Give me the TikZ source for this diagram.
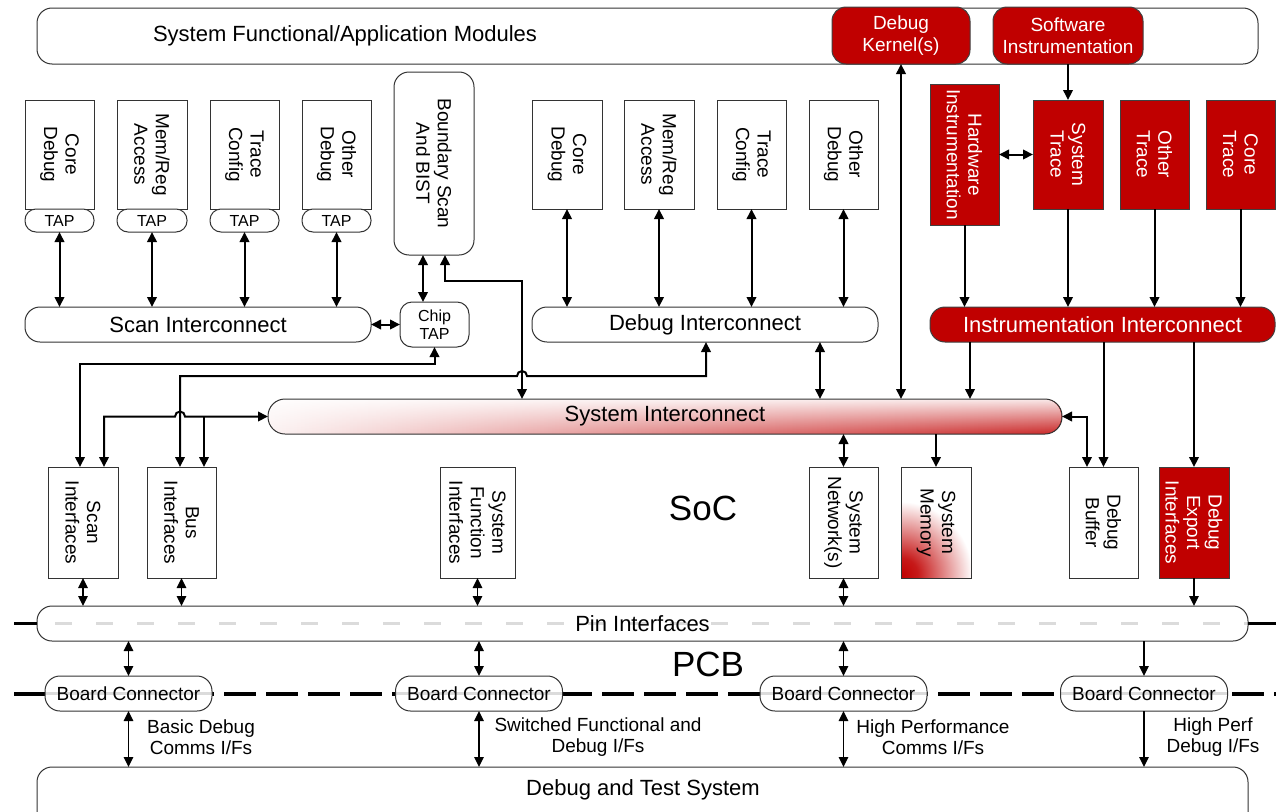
\documentclass[tikz,border=0pt]{standalone}
\usepackage{fontspec}
\setmainfont{Liberation Sans}
\usetikzlibrary{arrows.meta,fadings,calc}
\definecolor{ired}{RGB}{192,0,0}
% shading of the system interconnect bar: white on the left, red on the right
\pgfdeclarehorizontalshading{sysicshade}{100bp}{color(0bp)=(white); color(22bp)=(white); color(55bp)=(ired!55); color(85bp)=(ired); color(100bp)=(ired)}
% shading of the system memory block: red corner fading to white
\pgfdeclareradialshading{memrad}{\pgfpoint{0bp}{0bp}}{color(0bp)=(ired); color(4bp)=(ired!90); color(17bp)=(white); color(50bp)=(white)}
\tikzfading[name=topfade, top color=transparent!10, middle color=transparent!70, bottom color=transparent!100]

\begin{document}
\begin{tikzpicture}[x=1pt,y=-1pt,
  blk/.style={draw=black!80, line width=1pt, fill=white, inner sep=0pt, outer sep=0pt},
  rbx/.style={blk, rounded corners=#1},
  rbx/.default=12pt,
  redb/.style={fill=ired, draw=black!75, text=white},
  sz/.style 2 args={minimum width=#1pt, minimum height=#2pt},
  f35/.style={font=\fontsize{35pt}{40pt}\selectfont},
  f22/.style={font=\fontsize{22pt}{26pt}\selectfont},
  f19/.style={font=\fontsize{19pt}{21.5pt}\selectfont},
  f16/.style={font=\fontsize{16pt}{18.5pt}\selectfont},
  tv/.style={rotate=-90, align=center, inner sep=0pt, f19},
  tip/.tip={Triangle[length=10pt,width=9.5pt]},
  dbl/.style={tip-tip, line width=2pt},
  sgl/.style={-tip, line width=2pt},
  dblt/.style={tip-tip, line width=1.5pt},
  sglt/.style={-tip, line width=1.5pt},
]
\clip (0,0) rectangle (1276,811);

% ---------- application layer ----------
\node[rbx=15pt, sz={1221}{56}] (sfam) at (647.5,36) {};
\node[f22] (sfamt) at (345,36) {System Functional/Application Modules};
\node[rbx=14pt, redb, sz={138}{57}, f19, align=center] (dk) at (901,35.5) {Debug\\Kernel(s)};
\node[rbx=14pt, redb, sz={150}{57}, f19, align=center] (si) at (1068,35.5) {Software\\Instrumentation};

% ---------- scan-based debug blocks ----------
\node[blk, sz={69}{109}] (cd1) at (59.5,154.5) {};
\node[tv] (cd1t) at (cd1) {Core\\Debug};
\node[blk, sz={70}{109}] (mr1) at (152,154.5) {};
\node[tv] (mr1t) at (mr1) {Mem/Reg\\Access};
\node[blk, sz={69}{109}] (tc1) at (244.5,154.5) {};
\node[tv] (tc1t) at (tc1) {Trace\\Config};
\node[blk, sz={69}{109}] (od1) at (336.5,154.5) {};
\node[tv] (od1t) at (od1) {Other\\Debug};

\node[rbx=11pt, sz={69}{23}, f16] (tp1) at (59.5,220.5) {TAP};
\node[rbx=11pt, sz={70}{23}, f16] (tp2) at (152,220.5) {TAP};
\node[rbx=11pt, sz={69}{23}, f16] (tp3) at (244.5,220.5) {TAP};
\node[rbx=11pt, sz={69}{23}, f16] (tp4) at (336.5,220.5) {TAP};

\node[rbx=15pt, sz={80}{183}] (bs) at (434,163.5) {};
\node[tv] (bst) at (bs) {Boundary Scan\\And BIST};

\node[rbx=15pt, sz={346}{35}, f22] (scan) at (198,324.5) {Scan Interconnect};
\node[rbx=12pt, sz={69}{45}, f16, align=center] (ctap) at (434.5,324.5) {Chip\\TAP};

% ---------- memory-mapped debug blocks ----------
\node[blk, sz={70}{109}] (cd2) at (567,154.5) {};
\node[tv] (cd2t) at (cd2) {Core\\Debug};
\node[blk, sz={70}{109}] (mr2) at (659,154.5) {};
\node[tv] (mr2t) at (mr2) {Mem/Reg\\Access};
\node[blk, sz={69}{109}] (tc2) at (751.5,154.5) {};
\node[tv] (tc2t) at (tc2) {Trace\\Config};
\node[blk, sz={69}{109}] (od2) at (843.5,154.5) {};
\node[tv] (od2t) at (od2) {Other\\Debug};
\node[rbx=15pt, sz={346}{35}, f22] (dbgic) at (705,324.5) {Debug Interconnect};

% ---------- instrumentation ----------
\node[blk, redb, sz={69}{141}] (hwi) at (964.5,154.5) {};
\node[tv, text=white] (hwit) at (hwi) {Hardware\\Instrumentation};
\node[blk, redb, sz={70}{109}] (st) at (1068,154.5) {};
\node[tv, text=white] (stt) at (st) {System\\Trace};
\node[blk, redb, sz={69}{109}] (ot) at (1154.5,154.5) {};
\node[tv, text=white] (ott) at (ot) {Other\\Trace};
\node[blk, redb, sz={69}{109}] (ct) at (1240.5,154.5) {};
\node[tv, text=white] (ctt) at (ct) {Core\\Trace};
\node[rbx=15pt, redb, sz={345}{35}, f22] (iic) at (1102.5,324.5) {Instrumentation Interconnect};

% ---------- system interconnect ----------
\node[rbx=17pt, shade, shading=sysicshade, sz={794}{35}, f22,
  path picture={\fill[white, path fading=topfade]
    (path picture bounding box.south west) rectangle (path picture bounding box.north east);}]
  (sysic) at (665,416.5) {System Interconnect};

% ---------- interface blocks ----------
\node[blk, sz={70}{111}] (scif) at (83,522.5) {};
\node[tv] (scift) at (scif) {Scan\\Interfaces};
\node[blk, sz={69}{111}] (busif) at (181.5,522.5) {};
\node[tv] (busift) at (busif) {Bus\\Interfaces};
\node[blk, sz={75}{111}] (sfif) at (477.5,522.5) {};
\node[tv] (sfift) at (sfif) {System\\Function\\Interfaces};
\node[blk, sz={69}{111}] (snet) at (843.5,522.5) {};
\node[tv] (snett) at (snet) {System\\Network(s)};
\node[blk, sz={70}{111},
  path picture={\shade[shading=memrad] (path picture bounding box.south west) circle (105pt);}]
  (smem) at (936,522.5) {};
\node[tv] (smemt) at (smem) {System\\Memory};
\node[blk, sz={69}{111}] (dbuf) at (1103.5,522.5) {};
\node[tv] (dbuft) at (dbuf) {Debug\\Buffer};
\node[blk, redb, sz={70}{111}] (dexp) at (1194,522.5) {};
\node[tv, text=white] (dexpt) at (dexp) {Debug\\Export\\Interfaces};

\node[f35] (soc) at (703,508) {SoC};

% ---------- chip boundary and pins ----------
\coordinate (socl) at (14,623.5);
\coordinate (socr) at (1276,623.5);
\node[rbx=15pt, sz={1211}{35}, f22,
  path picture={\draw[black!14, line width=3pt, dash pattern=on 17pt off 24pt, dash phase=-18pt]
    (path picture bounding box.west) -- (path picture bounding box.east);}]
  (pin) at (642.5,623.5) {Pin Interfaces};
\draw[line width=3.5pt] (socl) -- (pin.west);
\draw[line width=3.5pt] (pin.east) -- (socr);

\node[f35] (pcb) at (708,664) {PCB};

% ---------- board boundary and connectors ----------
\coordinate (pcbl) at (14,693.5);
\coordinate (pcbr) at (1276,693.5);
\draw[line width=4pt, dash pattern=on 32pt off 10pt] (pcbl) -- (pcbr);
\tikzset{bconn/.style={rbx=15pt, sz={167}{35}, f19,
  path picture={\draw[black!14, line width=3pt]
    (path picture bounding box.west) -- (path picture bounding box.east);}}}
\node[bconn] (bc1) at (128.5,693.5) {Board Connector};
\node[bconn] (bc2) at (479,693.5) {Board Connector};
\node[bconn] (bc3) at (843.5,693.5) {Board Connector};
\node[bconn] (bc4) at (1144,693.5) {Board Connector};

\node[rbx=15pt, sz={1211}{73}] (dts) at (642.5,803.5) {};
\node[f22] (dtst) at (643,790) {Debug and Test System};

\node[f19, align=center] (lb1) at (201,737) {Basic Debug\\Comms I/Fs};
\node[f19, align=center] (lb2) at (598,737) {Switched Functional and\\Debug I/Fs};
\node[f19, align=center] (lb3) at (933,737) {High Performance\\Comms I/Fs};
\node[f19, align=center] (lb4) at (1213,737) {High Perf\\Debug I/Fs};

% ---------- connectors: scan side ----------
\foreach \t in {tp1,tp2,tp3,tp4}
  \draw[dbl] (\t.south) -- (\t.south |- scan.north);
\draw[dbl] (scan.east) -- (ctap.west);
\coordinate (bsa) at ($(ctap.north)+(-11.5,0)$);
\draw[dbl] (bsa |- bs.south) -- (bsa);
\coordinate (bsb) at ($(bs.south)+(11,0)$);
\coordinate (bsk) at (522,281);
\draw[dbl] (bsb) |- (bsk) -- (bsk |- sysic.north);

\coordinate (k1) at (80,364);
\draw[dbl] (ctap.south) |- (k1) -- (k1 |- scif.north);

\coordinate (k2) at (180,376);
\coordinate (k2j) at (517,376);
\coordinate (k3) at (706,376);
\draw[dbl] (k2 |- busif.north) -- (k2) -- (k2j) arc[start angle=180, end angle=0, radius=5pt] -- (k3) -- (k3 |- dbgic.south);

\coordinate (k4) at (104,416.5);
\coordinate (k4j) at (175,416.5);
\coordinate (k5) at (204,416.5);
\draw[dbl] (k4 |- scif.north) -- (k4) -- (k4j) arc[start angle=180, end angle=0, radius=5pt] -- (sysic.west);
\draw[sgl] (k5) -- (k5 |- busif.north);

% ---------- connectors: debug interconnect side ----------
\foreach \b in {cd2,mr2,tc2,od2}
  \draw[dbl] (\b.south) -- (\b.south |- dbgic.north);
\coordinate (k6) at ($(dbgic.south)+(115,0)$);
\draw[dbl] (k6) -- (k6 |- sysic.north);
\draw[dbl] (dk.south) -- (dk.south |- sysic.north);

% ---------- connectors: instrumentation ----------
\draw[sgl] (si.south) -- (st.north);
\draw[dbl] (hwi.east) -- (st.west);
\foreach \b in {hwi,st,ot,ct}
  \draw[sgl] (\b.south) -- (\b.south |- iic.north);
\coordinate (k7) at ($(iic.south)+(-132.5,0)$);
\draw[sgl] (k7) -- (k7 |- sysic.north);
\draw[sgl] (iic.south -| dbuf.north) -- (dbuf.north);
\draw[sgl] (iic.south -| dexp.north) -- (dexp.north);
\coordinate (k8) at ($(dbuf.north)+(-16.5,0)$);
\draw[dbl] (sysic.east) -| (k8);
\draw[sgl] (sysic.south -| smem.north) -- (smem.north);
\draw[dbl] (sysic.south -| snet.north) -- (snet.north);

% ---------- connectors: pins and board ----------
\foreach \b in {scif,busif,sfif,snet}
  \draw[dblt] (\b.south) -- (\b.south |- pin.north);
\draw[sglt] (dexp.south) -- (dexp.south |- pin.north);
\foreach \b in {bc1,bc2,bc3}{
  \draw[dblt] (\b.north |- pin.south) -- (\b.north);
  \draw[dblt] (\b.south) -- (\b.south |- dts.north);
}
\draw[sglt] (bc4.north |- pin.south) -- (bc4.north);
\draw[sglt] (bc4.south) -- (bc4.south |- dts.north);
\end{tikzpicture}
\end{document}
